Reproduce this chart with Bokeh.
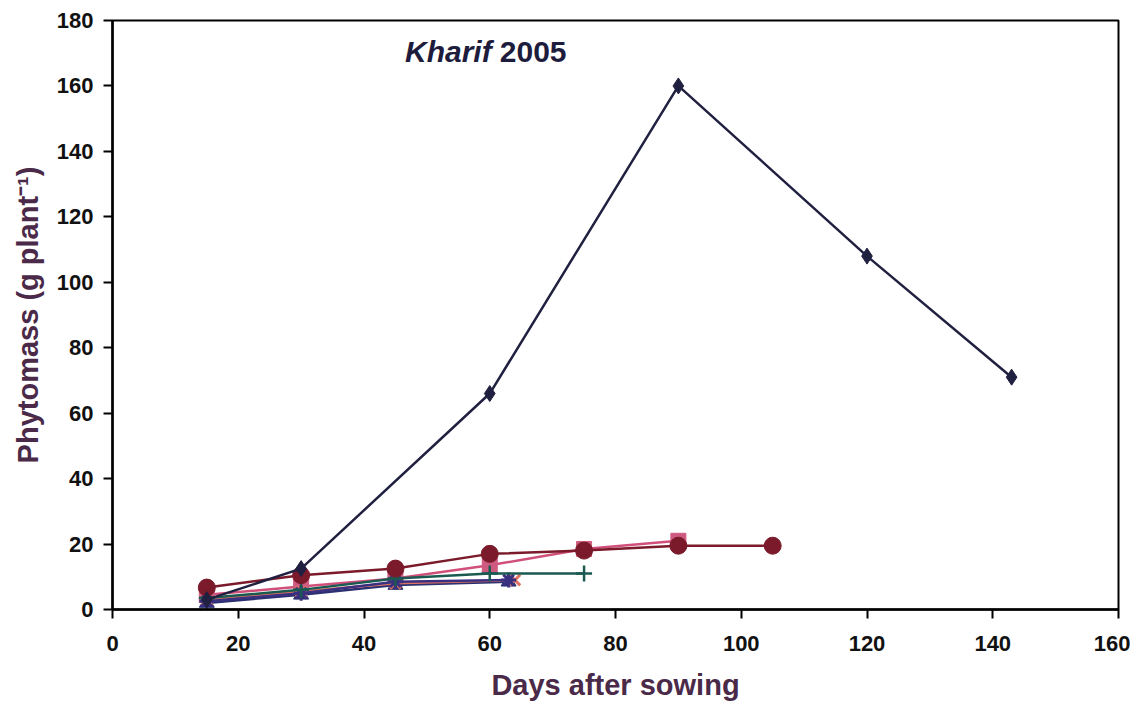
from bokeh.plotting import figure
from bokeh.models import Range1d, Label, FixedTicker
from bokeh.embed import file_html
from bokeh.resources import INLINE

# ---- data ----
diamond_x = [15, 30, 60, 90, 120, 143]
diamond_y = [3, 12.5, 66, 160, 108, 71]

square_x = [15, 30, 45, 60, 75, 90]
square_y = [4.5, 7, 9.5, 13.5, 18.5, 21]

triangle_x = [15, 30, 45, 63]
triangle_y = [2, 4.5, 7.5, 8.5]

xmark_x = [15, 30, 45, 64]
xmark_y = [3, 5.5, 8, 9]

asterisk_x = [15, 30, 45, 63]
asterisk_y = [2.5, 5, 8.5, 9]

circle_x = [15, 30, 45, 60, 75, 90, 105]
circle_y = [6.7, 10.5, 12.5, 17, 18, 19.5, 19.5]

plus_x = [15, 30, 45, 60, 75]
plus_y = [3.5, 6, 9.5, 11, 11]

x_ticks = [0, 20, 40, 60, 80, 100, 120, 140, 160]
y_ticks = [0, 20, 40, 60, 80, 100, 120, 140, 160, 180]

FONT = "Liberation Sans"

p = figure(width=1130, height=704, output_backend="svg", toolbar_location=None,
           x_range=Range1d(0, 160), y_range=Range1d(0, 180),
           min_border_left=112, min_border_right=12, min_border_top=20,
           min_border_bottom=95)

p.xgrid.visible = False
p.ygrid.visible = False
p.outline_line_color = "black"
p.outline_line_width = 2
p.background_fill_color = "white"
p.border_fill_color = "white"

for ax in (p.xaxis[0], p.yaxis[0]):
    ax.axis_line_color = "black"
    ax.axis_line_width = 2.5
    ax.major_tick_line_color = "black"
    ax.major_tick_line_width = 2
    ax.major_tick_out = 9
    ax.major_tick_in = 0
    ax.minor_tick_line_color = None
    ax.major_label_text_font = FONT
    ax.major_label_text_font_style = "bold"
    ax.major_label_text_font_size = "22px"
    ax.major_label_text_color = "#111111"
    ax.axis_label_text_font = FONT
    ax.axis_label_text_font_style = "bold"
    ax.axis_label_text_font_size = "29px"
    ax.axis_label_text_color = "#4a2a48"

p.xaxis.ticker = FixedTicker(ticks=x_ticks)
p.yaxis.ticker = FixedTicker(ticks=y_ticks)
p.xaxis.major_label_standoff = 17
p.yaxis.major_label_standoff = 10
p.xaxis.axis_label = "Days after sowing"
p.yaxis.axis_label = "Phytomass (g plant\u207b\u00b9)"
p.xaxis.axis_label_standoff = 15
p.yaxis.axis_label_standoff = 10

# series
p.line(square_x, square_y, line_color="#d0507a", line_width=2.5)
p.scatter(square_x, square_y, marker="square", size=15, fill_color="#cf5a80", line_color="#cf5a80")

p.line(triangle_x, triangle_y, line_color="#2a3070", line_width=2.5)
p.scatter(triangle_x, triangle_y, marker="triangle", size=15, fill_color="#2a3070", line_color="#2a3070")

p.line(xmark_x, xmark_y, line_color="#e07262", line_width=2.5)
p.scatter(xmark_x, xmark_y, marker="x", size=15, line_color="#e07262", line_width=3)

p.line(asterisk_x, asterisk_y, line_color="#3a3080", line_width=2.5)
p.scatter(asterisk_x, asterisk_y, marker="asterisk", size=15, line_color="#3a3080", line_width=3)

p.line(plus_x, plus_y, line_color="#1a5a50", line_width=2.5)
p.scatter(plus_x, plus_y, marker="cross", size=16, line_color="#1a5a50", line_width=2.5)

p.line(circle_x, circle_y, line_color="#7a1a2a", line_width=2.5)
p.scatter(circle_x, circle_y, marker="circle", size=17, fill_color="#7a1a2a", line_color="#7a1a2a")

p.line(diamond_x, diamond_y, line_color="#202040", line_width=2.5)
p.scatter(diamond_x, diamond_y, marker="diamond", size=16, fill_color="#202040", line_color="#202040")

# title inside plot
p.add_layout(Label(x=60.3, y=170.5, text="Kharif", text_font=FONT, text_font_style="bold italic",
                   text_font_size="30px", text_color="#1e1c3c", text_align="right",
                   text_baseline="middle"))
p.add_layout(Label(x=61.6, y=170.5, text="2005", text_font=FONT, text_font_style="bold",
                   text_font_size="30px", text_color="#1e1c3c", text_align="left",
                   text_baseline="middle"))

open("out.html", "w").write(file_html(p, INLINE))
